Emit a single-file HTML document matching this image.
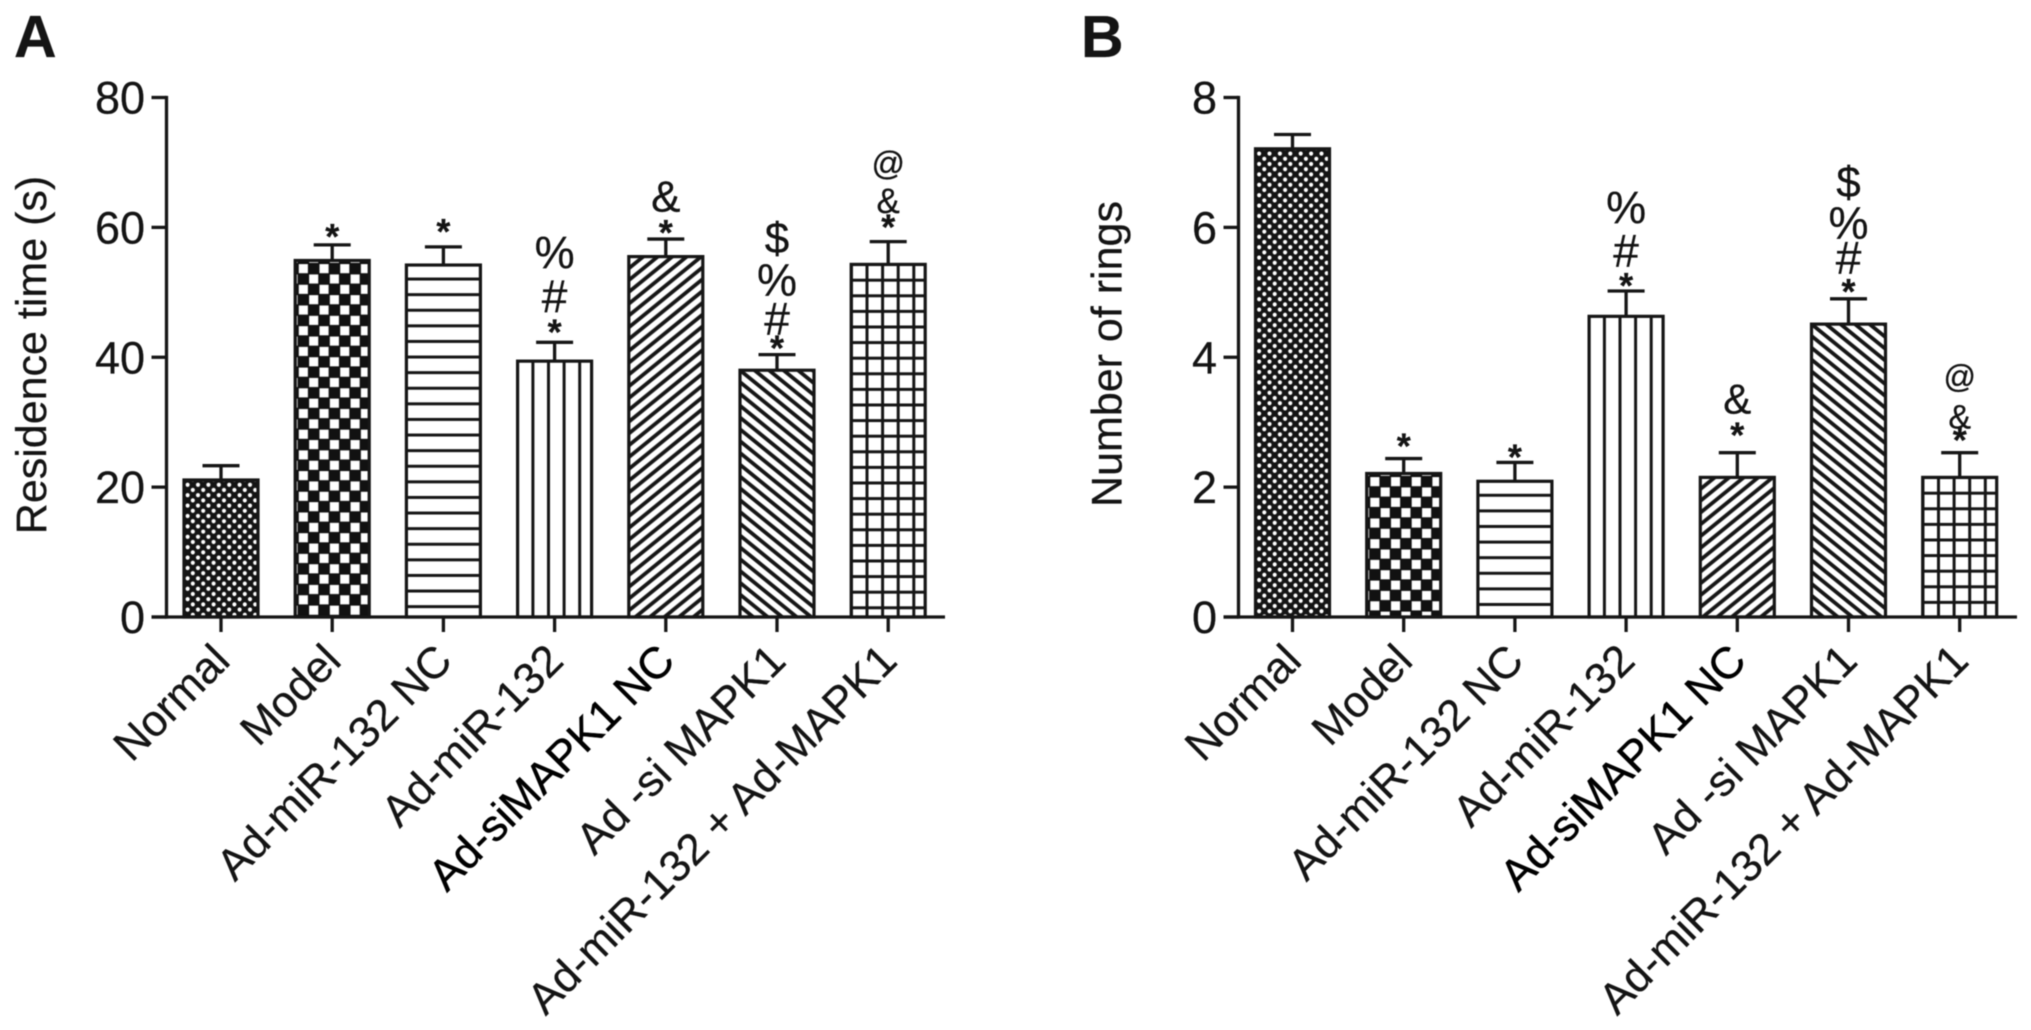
<!DOCTYPE html>
<html>
<head>
<meta charset="utf-8">
<title>Residence time and number of rings</title>
<style>
html,body{margin:0;padding:0;background:#fff;width:2031px;height:1030px;overflow:hidden}
svg{display:block;filter:blur(0.6px)}
text{font-family:"Liberation Sans",Arial,sans-serif;fill:#141414;stroke:#141414;stroke-width:0.25px}
</style>
</head>
<body>
<svg id="figure" xmlns="http://www.w3.org/2000/svg" width="2031" height="1030" viewBox="0 0 2031 1030">
<defs id="defs"></defs>
<rect x="0" y="0" width="2031" height="1030" fill="#fff"/>
<text x="14" y="57" font-size="59" font-weight="bold">A</text>
<text x="1081" y="57" font-size="59" font-weight="bold">B</text>
<text transform="translate(46,355) rotate(-90)" text-anchor="middle" font-size="43">Residence time (s)</text>
<text transform="translate(1121.5,354) rotate(-90)" text-anchor="middle" font-size="43">Number of rings</text>
<g id="panel-a"></g>
<g id="panel-b"></g>
</svg>
<script>
const categories = ['Normal', 'Model', 'Ad-miR-132 NC', 'Ad-miR-132', 'Ad-siMAPK1 NC', 'Ad -si MAPK1', 'Ad-miR-132 + Ad-MAPK1'];

const residenceTicks = [0, 20, 40, 60, 80];
const residenceValues = [21.1, 54.9, 54.2, 39.4, 55.5, 38.0, 54.3];
const residenceErrors = [2.2, 2.4, 2.8, 2.9, 2.7, 2.4, 3.5];
const residenceMarks = [[], ['*'], ['*'], ['*', '#', '%'], ['*', '&'], ['*', '#', '%', '$'], ['*', '&', '@']];

const ringTicks = [0, 2, 4, 6, 8];
const ringValues = [7.21, 2.21, 2.09, 4.63, 2.15, 4.51, 2.15];
const ringErrors = [0.22, 0.23, 0.29, 0.39, 0.38, 0.39, 0.38];
const ringMarks = [[], ['*'], ['*'], ['*', '#', '%'], ['*', '&'], ['*', '#', '%', '$'], ['*', '&', '@']];

/* Layout only: [gap above the error cap, font size] for each annotation symbol. */
const residenceMarkLayout = [[], [[14, 36]], [[21, 36]], [[16, 36], [46, 46], [90, 45]], [[12, 36], [43, 44]], [[12, 36], [36, 46], [75, 45], [117, 44]], [[20, 36], [41, 35], [77, 33]]];
const ringMarkLayout = [[], [[18, 36]], [[11, 36]], [[11, 36], [40, 46], [84, 45]], [[23, 36], [54, 42]], [[13, 36], [41, 46], [76, 45], [117, 44]], [[18, 36], [36, 34], [75, 32]]];

const patternNames = ['dots', 'checks', 'horizontal', 'vertical', 'diagonal-up', 'diagonal-down', 'grid'];

const SVG_NS = 'http://www.w3.org/2000/svg';
const INK = '#161616';
const defs = document.getElementById('defs');

function make(parent, tag, attrs) {
  const el = document.createElementNS(SVG_NS, tag);
  for (const key in attrs) el.setAttribute(key, attrs[key]);
  parent.appendChild(el);
  return el;
}

function stripes(p, w, h, mirror, width) {
  [-w, 0, w].forEach(dx => {
    const a = { x: dx - w / 2, y: h * 1.5 }, b = { x: dx + w * 1.5, y: -h / 2 };
    make(p, 'line', {
      x1: a.x, y1: mirror ? h - a.y : a.y,
      x2: b.x, y2: mirror ? h - b.y : b.y,
      stroke: INK, 'stroke-width': width
    });
  });
}

function paintPattern(p, name) {
  const line = { stroke: INK, 'stroke-width': 3 };
  if (name === 'dots') {
    make(p, 'rect', { x: 0, y: 0, width: 10.4, height: 10.4, fill: '#141414' });
    make(p, 'circle', { cx: 2.6, cy: 2.6, r: 2.05, fill: '#fff' });
    make(p, 'circle', { cx: 7.8, cy: 7.8, r: 2.05, fill: '#fff' });
  } else if (name === 'checks') {
    make(p, 'rect', { x: 0, y: 0, width: 20.7, height: 20.7, fill: '#111' });
    make(p, 'rect', { x: 0.6, y: 0.6, width: 9.1, height: 9.1, fill: '#fff' });
    make(p, 'rect', { x: 10.95, y: 10.95, width: 9.1, height: 9.1, fill: '#fff' });
  } else if (name === 'horizontal') {
    make(p, 'line', Object.assign({ x1: 0, y1: 7.8, x2: 15.6, y2: 7.8 }, line));
  } else if (name === 'vertical') {
    make(p, 'line', Object.assign({ x1: 7.8, y1: 0, x2: 7.8, y2: 15.6 }, line));
  } else if (name === 'diagonal-up') {
    stripes(p, 14.5, 11.8, false, 3.8);
  } else if (name === 'diagonal-down') {
    stripes(p, 14.5, 11.8, true, 3.8);
  } else if (name === 'grid') {
    make(p, 'line', Object.assign({ x1: 7.8, y1: 0, x2: 7.8, y2: 15.6 }, line));
    make(p, 'line', Object.assign({ x1: 0, y1: 7.8, x2: 15.6, y2: 7.8 }, line));
  }
}

const patternSize = { dots: [10.4, 10.4], checks: [20.7, 20.7], horizontal: [15.6, 15.6], vertical: [15.6, 15.6], 'diagonal-up': [14.5, 11.8], 'diagonal-down': [14.5, 11.8], grid: [15.6, 15.6] };
const patternOrigin = { dots: [1, 2.2], checks: [3, 3], horizontal: [0, 6.2], vertical: [7.5, 0], 'diagonal-up': [0, 0], 'diagonal-down': [0, 0], grid: [8, 8] };
const baselineShift = { '*': 0.5, '#': 0.35, '%': 0.35, '$': 0.35, '&': 0.35, '@': 0.3 };

function drawPanel(cfg) {
  const root = document.getElementById(cfg.id);
  const yBase = 617, yTop = 97.5;
  const yMax = cfg.ticks[cfg.ticks.length - 1];
  const yScale = v => yBase - (v / yMax) * (yBase - yTop);
  const xScale = i => cfg.firstX + i * 111.2;
  const barW = 74;
  const axisStyle = { stroke: INK, 'stroke-width': 3.3, 'stroke-linecap': 'butt', fill: 'none' };

  categories.forEach((cat, i) => {
    const cx = xScale(i);
    const top = yScale(cfg.values[i]);
    const capY = yScale(cfg.values[i] + cfg.errors[i]);
    const left = cx - barW / 2;
    const kind = patternNames[i];
    const size = patternSize[kind];
    const origin = patternOrigin[kind];

    const pid = cfg.id + '-pattern-' + i;
    const pat = make(defs, 'pattern', { id: pid, patternUnits: 'userSpaceOnUse', width: size[0], height: size[1], patternTransform: 'translate(' + (left + origin[0]) + ',' + (top + origin[1]) + ')' });
    paintPattern(pat, kind);

    const stem = make(root, 'line', Object.assign({ x1: cx, y1: top, x2: cx, y2: capY }, axisStyle));
    
    
    const cap = make(root, 'line', Object.assign({ x1: cx - 18.5, y1: capY, x2: cx + 18.5, y2: capY }, axisStyle));
    
    

    const bar = make(root, 'rect', { x: left, y: top, width: barW, height: yBase - top, fill: 'url(#' + pid + ')', stroke: INK, 'stroke-width': 3.2 });
    
    

    const tick = make(root, 'line', Object.assign({ x1: cx, y1: yBase, x2: cx, y2: yBase + 15 }, axisStyle));
    
    

    const lx = cx + 11, ly = yBase + 46;
    const label = make(root, 'text', { transform: 'translate(' + lx + ',' + ly + ') rotate(-45)', 'text-anchor': 'end', 'font-size': 44 });
    label.textContent = cat;
    
    
    if (i === 4) {
      label.setAttribute('style', 'stroke-width:0.5px;fill:#000;stroke:#000');
    }

    cfg.marks[i].forEach((sym, k) => {
      const spec = cfg.layout[i][k] || [20 + 36 * k, 42];
      const fs = spec[1];
      const y = capY - spec[0] + baselineShift[sym] * fs;
      const t = make(root, 'text', { x: cx, y: y, 'text-anchor': 'middle', 'font-size': fs });
      if (sym === '*') t.setAttribute('font-weight', 'bold');
      t.textContent = sym;
      
      
    });
  });

  const yAxis = make(root, 'line', Object.assign({ x1: cfg.axisX, y1: yTop - 1.6, x2: cfg.axisX, y2: yBase + 1.6 }, axisStyle));
  
  
  const xAxis = make(root, 'line', Object.assign({ x1: cfg.axisX - 15, y1: yBase, x2: cfg.axisEnd, y2: yBase }, axisStyle));
  
  

  cfg.ticks.forEach(v => {
    const y = yScale(v);
    const tick = make(root, 'line', Object.assign({ x1: cfg.axisX - 15, y1: y, x2: cfg.axisX, y2: y }, axisStyle));
    
    
    const label = make(root, 'text', { x: cfg.axisX - 21.5, y: y + 16, 'text-anchor': 'end', 'font-size': 45 });
    label.textContent = String(v);
    
    
  });
}

drawPanel({ id: 'panel-a', ticks: residenceTicks, values: residenceValues, errors: residenceErrors, marks: residenceMarks, layout: residenceMarkLayout, firstX: 221, axisX: 166.5, axisEnd: 945 });
drawPanel({ id: 'panel-b', ticks: ringTicks, values: ringValues, errors: ringErrors, marks: ringMarks, layout: ringMarkLayout, firstX: 1292.5, axisX: 1238.5, axisEnd: 2017 });
</script>
</body>
</html>
